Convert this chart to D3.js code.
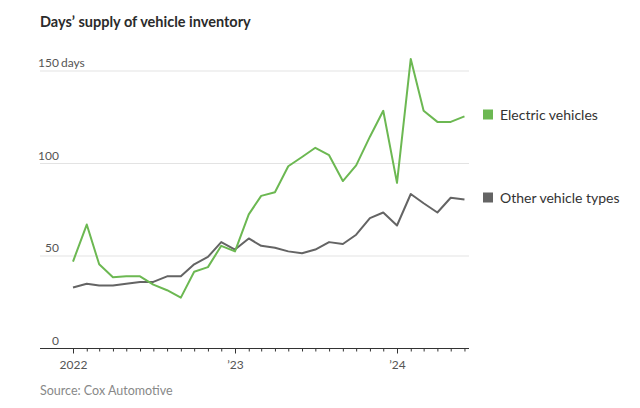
<!DOCTYPE html>
<html><head><meta charset="utf-8">
<script src="https://cdn.jsdelivr.net/npm/d3@7"></script>
<style>
body{margin:0;background:#fff}
svg{display:block}
text{font-family:Lato,"Noto Sans",sans-serif}
</style>
</head><body>
<svg id="c" width="640" height="408"></svg>
<script>
const months = ["2022-01","2022-02","2022-03","2022-04","2022-05","2022-06","2022-07","2022-08","2022-09","2022-10","2022-11","2022-12",
  "2023-01","2023-02","2023-03","2023-04","2023-05","2023-06","2023-07","2023-08","2023-09","2023-10","2023-11","2023-12",
  "2024-01","2024-02","2024-03","2024-04","2024-05","2024-06"];
const electric = [47,67,45.5,38.5,39,39,34.5,31.5,27.5,41.5,44,55.5,52.5,72.5,82.5,84.5,98.5,103.5,108.5,104.5,90.5,99,114.5,128.5,89.5,156.5,128.5,122.5,122.5,125.5];
const other = [33,35,34,34,35,36,36,39,39,45.5,49.5,57.5,53.5,59.5,55.5,54.5,52.5,51.5,53.5,57.5,56.5,61.5,70.5,73.5,66.5,83.5,78.5,73.5,81.5,80.5];
const yTicks = [0,50,100,150];
const yearTicks = ["2022-01","2023-01","2024-01"];
const yearLabels = ["2022","’23","’24"];
const seriesNames = ["Electric vehicles","Other vehicle types"];
const seriesColors = ["#6cb852","#646464"];

const parse = d3.utcParse("%Y-%m");
const dates = months.map(parse);
const svg = d3.select("#c");

const x = d3.scaleUtc().domain([parse("2022-01"), parse("2024-01")]).range([73, 397]);
const y = d3.scaleLinear().domain([0,150]).range([348.5, 71]);
const left = 40, right = 469;

// title
svg.append("text").attr("x",40).attr("y",27).attr("font-size",14.5).attr("font-weight",700).attr("fill","#2b2b2b")
  .text("Days’ supply of vehicle inventory");

// gridlines
svg.append("g").selectAll("line").data(yTicks.filter(d=>d>0)).join("line")
  .attr("x1",left).attr("x2",right).attr("y1",d=>y(d)).attr("y2",d=>y(d))
  .attr("stroke","#e3e3e3").attr("stroke-width",1);

// y labels
const yl = svg.append("g");
yl.selectAll("text").data(yTicks).join("text")
  .attr("x",59).attr("y",d=>y(d)-4).attr("text-anchor","end")
  .attr("font-size",12).attr("fill","#555").text(d=>d);
yl.append("text").attr("x",61).attr("y",y(150)-4).attr("font-size",12).attr("fill","#555").text("days");

// x axis
const gx = svg.append("g").attr("transform",`translate(0,${y(0)})`);
gx.call(d3.axisBottom(x).tickValues(dates).tickSize(3).tickFormat(""))
  .call(g=>g.select(".domain").remove())
  .call(g=>g.selectAll("line").attr("stroke","#333"));
gx.append("g").call(d3.axisBottom(x).tickValues(yearTicks.map(parse)).tickSize(5).tickFormat((d,i)=>yearLabels[i]))
  .call(g=>g.select(".domain").remove())
  .call(g=>g.selectAll("line").attr("stroke","#333"))
  .call(g=>g.selectAll("text").attr("font-size",12).attr("fill","#555").attr("font-family","Lato,'Noto Sans',sans-serif").attr("dy","1.05em"));
gx.append("line").attr("x1",left).attr("x2",right).attr("y1",0).attr("y2",0).attr("stroke","#333").attr("stroke-width",1.2);

// lines
const line = d3.line().x((d,i)=>x(dates[i])).y(d=>y(d));
[other, electric].forEach((s,k)=>{
  const idx = k===0 ? 1 : 0;
  svg.append("path").datum(s).attr("d",line).attr("fill","none")
    .attr("stroke",seriesColors[idx]).attr("stroke-width",2).attr("stroke-linejoin","round");
});

// legend
const legY = [114.5, 197.5];
seriesNames.forEach((n,i)=>{
  svg.append("rect").attr("x",483).attr("y",legY[i]-5).attr("width",10).attr("height",10).attr("fill",seriesColors[i]);
  svg.append("text").attr("x",500).attr("y",legY[i]+5).attr("font-size",14).attr("fill","#333").text(n);
});

// source
svg.append("text").attr("x",40).attr("y",395).attr("font-size",12.5).attr("fill","#888").text("Source: Cox Automotive");
</script>
</body></html>
